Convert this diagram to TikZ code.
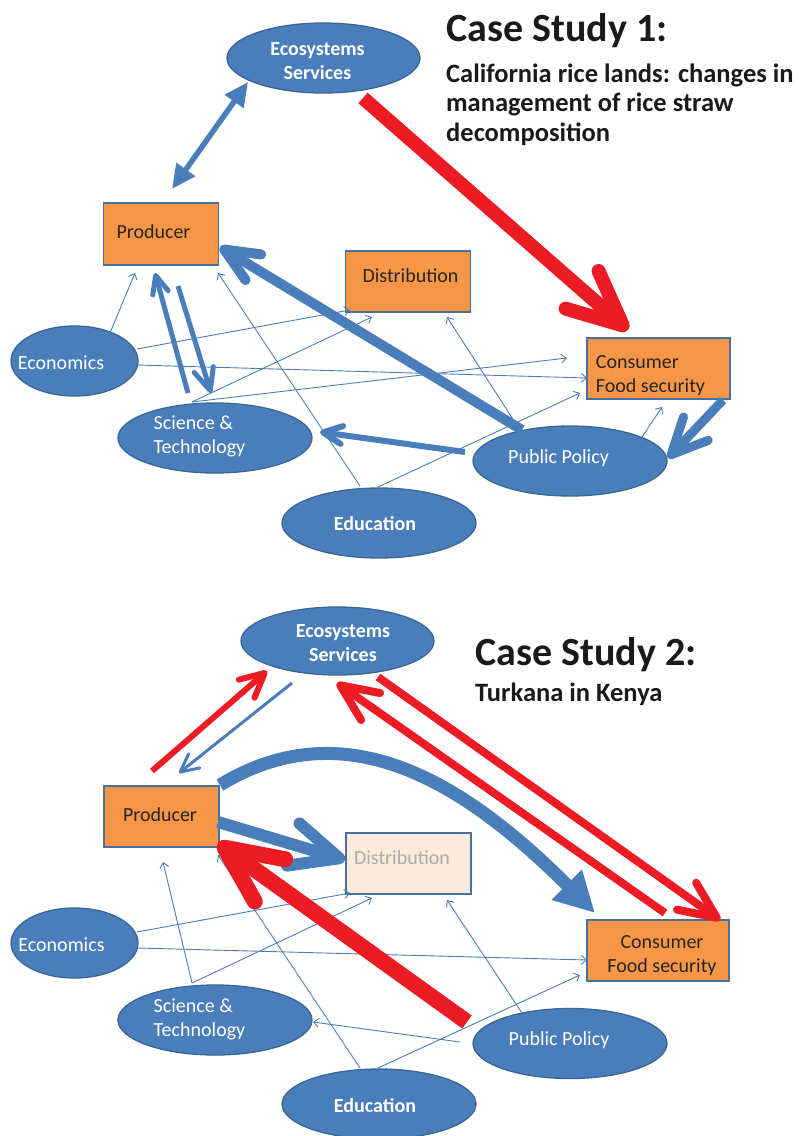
\documentclass[tikz,border=0pt]{standalone}
\usepackage{fontspec}
\setmainfont{Carlito}
\usetikzlibrary{arrows.meta,shapes.geometric}
\definecolor{ablue}{HTML}{4A7EBB}
\definecolor{efill}{HTML}{4A7EBB}
\definecolor{edraw}{HTML}{3A6694}
\definecolor{bfill}{HTML}{F79646}
\definecolor{bdraw}{HTML}{46709E}
\definecolor{ared}{HTML}{ED1C24}
\definecolor{tdark}{HTML}{262626}
\definecolor{ttitle}{HTML}{1A1A1A}
\definecolor{dfill}{HTML}{FDEADA}
\definecolor{dtext}{HTML}{ABABAB}
% place text with its (first) baseline at the node centre, moved by #1 (right) and #2 (up)
\newcommand\mvx[3]{\makebox[0pt]{\hspace*{#1}\raisebox{#2}[0pt][0pt]{#3}\hspace*{-#1}}}
\begin{document}
\begin{tikzpicture}[x=1pt,y=-1pt,
  ell/.style={ellipse, fill=efill, draw=edraw, line width=1.3pt, minimum width=194pt, minimum height=70pt, inner sep=0pt, text=white, font=\fontsize{20}{24}\selectfont},
  box/.style={rectangle, fill=bfill, draw=bdraw, line width=1.5pt, inner sep=0pt, text=tdark, font=\fontsize{20}{24}\selectfont},
  thinarr/.style={draw=ablue, line width=0.9pt, -{Straight Barb[length=5pt,width=9pt]}},
  fat/.style n args={4}{draw=#1, line width=#2, -{Straight Barb[length=#3,width=#4,round]}},
  ttl/.style={anchor=base west, text=ttitle, font=\fontsize{40}{48}\selectfont\bfseries, inner sep=0pt},
  sub/.style={anchor=base west, text=ttitle, font=\fontsize{26.5}{29.5}\selectfont\bfseries, inner sep=0pt, align=left}
]
\fill[white] (0,0) rectangle (799,1136);
\useasboundingbox (0,0) rectangle (799,1136);

% ================= Case Study 1 =================
\node[ell, minimum width=193pt] (es1) at (323.5,58) {\mvx{-6pt}{3pt}{\bfseries\begin{tabular}[t]{@{}c@{}}Ecosystems\\Services\end{tabular}}};
\node[box, minimum width=115pt, minimum height=62pt] (prod1) at (161,234) {\mvx{-7.5pt}{-4.5pt}{Producer}};
\node[box, minimum width=125pt, minimum height=61pt] (dist1) at (408,281.5) {\mvx{2.5pt}{-0.5pt}{Distribution}};
\node[box, minimum width=143pt, minimum height=61pt] (cons1) at (658.5,368.5) {\mvx{-8pt}{0pt}{\begin{tabular}[t]{@{}l@{}}Consumer\\Food security\end{tabular}}};
\node[ell, minimum width=127pt] (econ1) at (74.5,361) {\mvx{-13.5pt}{-8pt}{Economics}};
\node[ell] (st1) at (215,438) {\mvx{-15.5pt}{8.5pt}{\begin{tabular}[t]{@{}l@{}}Science \&\\Technology\end{tabular}}};
\node[ell] (pp1) at (570,461) {\mvx{-11.5pt}{-2.5pt}{Public Policy}};
\node[ell] (edu1) at (379,523) {\mvx{-4pt}{-7pt}{\bfseries Education}};

\node[ttl] (cs1) at (446,41) {Case Study 1:};
\node[sub] (cs1sub) at (446,141) {California rice lands: changes in\\management of rice straw\\decomposition};

% connector end points
\coordinate (es1-p) at (248,82);   \coordinate (prod1-es) at (172,189);
\coordinate (es1-c) at (363,98);   \coordinate (cons1-es) at (628,330);
\coordinate (pp1-p) at (522,430);  \coordinate (prod1-pp) at (220,247);
\coordinate (pp1-s) at (465,452);  \coordinate (st1-pp) at (320,432);
\coordinate (st1-p) at (188,393);  \coordinate (prod1-st) at (155,273);
\coordinate (prod1-s) at (178,286);\coordinate (st1-prod) at (211,393);
\coordinate (cons1-p) at (723,400);\coordinate (pp1-cons) at (668,458);
\coordinate (econ1-a) at (110,333);\coordinate (prod1-ec) at (135,273);
\coordinate (econ1-b) at (137,349);\coordinate (dist1-ec) at (350,310);
\coordinate (econ1-c) at (137,365);\coordinate (cons1-ec) at (587,378);
\coordinate (st1-a) at (192,402);  \coordinate (dist1-st) at (372,317);
\coordinate (cons1-st) at (567,358);
\coordinate (edu1-a) at (360,486); \coordinate (prod1-ed) at (218,273);
\coordinate (edu1-b) at (378,487); \coordinate (cons1-ed) at (580,393);
\coordinate (pp1-a) at (518,427);  \coordinate (dist1-pp) at (447,317);
\coordinate (pp1-b) at (642,437);  \coordinate (cons1-pp) at (662,407);

% thin connectors
\draw[thinarr] (econ1-a) -- (prod1-ec);
\draw[thinarr] (econ1-b) -- (dist1-ec);
\draw[thinarr] (econ1-c) -- (cons1-ec);
\draw[thinarr] (st1-a) -- (dist1-st);
\draw[thinarr] (st1-a) -- (cons1-st);
\draw[thinarr] (edu1-a) -- (prod1-ed);
\draw[thinarr] (edu1-b) -- (cons1-ed);
\draw[thinarr] (pp1-a) -- (dist1-pp);
\draw[thinarr] (pp1-b) -- (cons1-pp);

% thick connectors
\draw[ablue, line width=5.5pt, {Triangle[length=24pt,width=22pt]}-{Triangle[length=24pt,width=22pt]}] (prod1-es) -- (es1-p);
\draw[fat={ared}{14pt}{54pt}{50pt}] (es1-c) -- (cons1-es);
\draw[fat={ablue}{10pt}{34pt}{30pt}] (pp1-p) -- (prod1-pp);
\draw[fat={ablue}{6pt}{19pt}{18pt}] (pp1-s) -- (st1-pp);
\draw[fat={ablue}{5pt}{18pt}{16pt}] (st1-p) -- (prod1-st);
\draw[fat={ablue}{5pt}{22pt}{20pt}] (prod1-s) -- (st1-prod);
\draw[fat={ablue}{9pt}{36pt}{34pt}] (cons1-p) -- (pp1-cons);

% ================= Case Study 2 =================
\node[ell, minimum width=193pt, minimum height=68pt] (es2) at (337.5,641) {\mvx{5.5pt}{3.5pt}{\bfseries\begin{tabular}[t]{@{}c@{}}Ecosystems\\Services\end{tabular}}};
\node[box, minimum width=115pt, minimum height=61pt] (prod2) at (161.5,816.5) {\mvx{-1.5pt}{-4.5pt}{Producer}};
\node[box, fill=dfill, text=dtext, minimum width=125pt, minimum height=61pt] (dist2) at (408.5,863.5) {\mvx{-6.5pt}{-0.5pt}{Distribution}};
\node[box, minimum width=142pt, minimum height=61pt] (cons2) at (658,950.5) {\mvx{4pt}{2.5pt}{\begin{tabular}[t]{@{}c@{}}Consumer\\Food security\end{tabular}}};
\node[ell, minimum width=127pt] (econ2) at (74.5,943) {\mvx{-13pt}{-8pt}{Economics}};
\node[ell] (st2) at (215,1020) {\mvx{-15.5pt}{8pt}{\begin{tabular}[t]{@{}l@{}}Science \&\\Technology\end{tabular}}};
\node[ell] (pp2) at (570,1043.5) {\mvx{-11pt}{-1.5pt}{Public Policy}};
\node[ell] (edu2) at (379,1104) {\mvx{-4pt}{-8pt}{\bfseries Education}};

\node[ttl] (cs2) at (475,665) {Case Study 2:};
\node[sub] (cs2sub) at (475,701) {Turkana in Kenya};

\coordinate (prod2-e) at (152,771); \coordinate (es2-pr) at (267,671);
\coordinate (es2-p) at (292,683);   \coordinate (prod2-es) at (179,773);
\coordinate (prod2-c) at (220,785); \coordinate (cons2-pr) at (595,913);
\coordinate (prod2-d) at (218,822); \coordinate (dist2-pr) at (345,860);
\coordinate (pp2-p) at (467,1022);  \coordinate (prod2-pp) at (218,843);
\coordinate (cons2-e) at (665,913); \coordinate (es2-co) at (337,683);
\coordinate (es2-c) at (378,677);   \coordinate (cons2-es) at (720,920);
\coordinate (econ2-a) at (137,932); \coordinate (dist2-ec) at (350,893);
\coordinate (econ2-b) at (138,948); \coordinate (cons2-ec) at (587,960);
\coordinate (st2-a) at (192,983);   \coordinate (prod2-st) at (163,862);
\coordinate (dist2-st) at (372,898);
\coordinate (pp2-a) at (460,1042);  \coordinate (st2-pp) at (313,1022);
\coordinate (pp2-b) at (522,1013);  \coordinate (dist2-pp) at (447,900);
\coordinate (edu2-a) at (360,1068); \coordinate (prod2-ed) at (218,855);
\coordinate (edu2-b) at (378,1068); \coordinate (cons2-ed) at (580,975);

\draw[thinarr] (econ2-a) -- (dist2-ec);
\draw[thinarr] (econ2-b) -- (cons2-ec);
\draw[thinarr] (st2-a) -- (prod2-st);
\draw[thinarr] (st2-a) -- (dist2-st);
\draw[thinarr] (pp2-a) -- (st2-pp);
\draw[thinarr] (pp2-b) -- (dist2-pp);
\draw[thinarr] (edu2-a) -- (prod2-ed);
\draw[thinarr] (edu2-b) -- (cons2-ed);

\draw[fat={ared}{6pt}{24pt}{24pt}] (prod2-e) -- (es2-pr);
\draw[fat={ablue}{3pt}{18pt}{18pt}] (es2-p) -- (prod2-es);
\draw[ablue, line width=13pt, -{Triangle[length=40pt,width=40pt]}] (prod2-c) .. controls (348,707) and (468,786) .. (cons2-pr);
\draw[fat={ablue}{12pt}{48pt}{44pt}] (prod2-d) -- (dist2-pr);
\draw[fat={ared}{16pt}{56pt}{52pt}] (pp2-p) -- (prod2-pp);
\draw[fat={ared}{8pt}{37pt}{33pt}] (cons2-e) -- (es2-co);
\draw[fat={ared}{8pt}{37pt}{33pt}] (es2-c) -- (cons2-es);
\end{tikzpicture}
\end{document}
